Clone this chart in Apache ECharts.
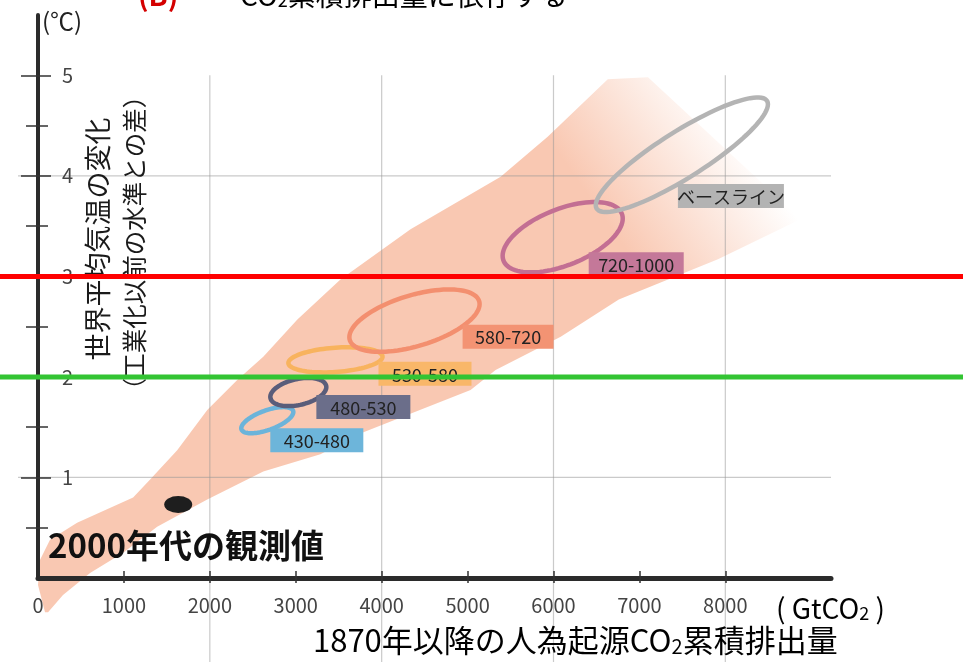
<!DOCTYPE html>
<html>
<head>
<meta charset="utf-8">
<script src="https://cdn.jsdelivr.net/npm/echarts@6/dist/echarts.min.js"></script>
<style>
  html, body { margin: 0; padding: 0; background: #ffffff; }
  #chart { width: 963px; height: 662px; }
</style>
</head>
<body>
<div id="chart"></div>
<script>
// Warming vs. cumulative anthropogenic CO2 emissions since 1870

// ---- data ----
const xLabelValues = [0, 1000, 2000, 3000, 4000, 5000, 6000, 7000, 8000];
const xTickValues = [1000, 2000, 3000, 4000, 5000, 6000, 7000, 8000];
const yLabelValues = [1, 2, 3, 4, 5];
const yMinorValues = [0.5, 1.5, 2.5, 3.5, 4.5];
const xGridValues = [2000, 4000, 6000, 8000];
const yGridValues = [1, 2, 3, 4];

// scenario ranges (ppm CO2-eq in 2100): spread of cumulative emissions and warming
const scenarioNames = ['430-480', '480-530', '530-580', '580-720', '720-1000', 'ベースライン'];
const scenarioCenterX = [2669, 3030, 3462, 4382, 6107, 7494];
const scenarioCenterY = [1.57, 1.85, 2.17, 2.56, 3.39, 4.21];
const scenarioHalfX = [303, 326, 548, 758, 699, 1002];
const scenarioHalfY = [0.13, 0.14, 0.125, 0.31, 0.35, 0.57];
const scenarioCorrelation = [0.62, 0.35, 0.25, 0.53, 0.53, 0.88];

// model spread (plume outline), cumulative emissions / warming
const plumeX = [82, 0, 23, 140, 455, 1107, 1305, 1620, 1970, 2319, 2622, 3019, 3520, 4336, 5385, 5932, 6632, 7100, 8881, 7914, 6760, 6084, 5326, 5035, 3788, 3287, 2622, 1970, 1387, 991, 606, 291, 117];
const plumeY = [-0.34, -0.07, 0.18, 0.38, 0.55, 0.80, 0.98, 1.27, 1.67, 1.97, 2.20, 2.57, 2.97, 3.47, 3.99, 4.39, 4.96, 4.98, 3.57, 3.17, 2.77, 2.40, 2.07, 1.87, 1.45, 1.23, 1.06, 0.78, 0.51, 0.25, 0.05, -0.17, -0.34];

// observations for the 2000s
const observedX = [1632];
const observedY = [0.73];

// reference warming levels
const thresholdLevels = [2, 3];

// ---- layout & style ----
const X_MAX = 9230;
const Y_MAX = 5.6;
const FONT = '"Noto Sans CJK JP", "Noto Sans", sans-serif';
const INK = '#2b2b2b';
const scenarioColors = ['#6cb4da', '#5a5d7a', '#f8b35e', '#f38f6f', '#c36f93', '#b4b4b4'];
const labelBoxColors = ['#6db5da', '#6b6e8a', '#f9b769', '#f39373', '#c47899', '#b3b3b3'];
const labelAnchorX = [2704, 3240, 3963, 4942, 6410, 7448];   // top-left of each label box
const labelAnchorY = [1.49, 1.82, 2.15, 2.52, 3.24, 3.92];
const labelBoxWidth = [93, 94, 93, 91, 95, 106];
const labelBoxHeight = 24;
const thresholdColors = ['#33c433', '#ff0000'];
const plumeColor = '#f9c8b2';

const chart = echarts.init(document.getElementById('chart'));

function ellipsePoints(i, api) {
  const r = scenarioCorrelation[i];
  const s = Math.sqrt(1 - r * r);
  const pts = [];
  for (let k = 0; k < 96; k++) {
    const t = (k / 96) * Math.PI * 2;
    pts.push(api.coord([
      scenarioCenterX[i] + scenarioHalfX[i] * Math.cos(t),
      scenarioCenterY[i] + scenarioHalfY[i] * (r * Math.cos(t) + s * Math.sin(t))
    ]));
  }
  return pts;
}

const tickLine = { color: '#333', width: 1.5 };
const yBase = {
  type: 'value', min: 0, max: Y_MAX, interval: 1, position: 'left', offset: 0,
  splitLine: { show: false }, axisLabel: { show: false },
  axisLine: { show: false }, axisTick: { show: false }, z: 6
};
const xBase = {
  type: 'value', min: 0, max: X_MAX, interval: 1000, position: 'bottom', offset: 0,
  splitLine: { show: false }, axisLabel: { show: false },
  axisLine: { show: false, onZero: false }, axisTick: { show: false }, z: 6
};

const option = {
  backgroundColor: '#ffffff',
  animation: false,
  grid: { left: 38, right: 132, top: 15, bottom: 84, containLabel: false },
  xAxis: [
    Object.assign({}, xBase, {
      axisLine: { show: true, onZero: false, lineStyle: { color: INK, width: 5 } },
      axisLabel: { show: true, customValues: xLabelValues, margin: 17, color: '#444', fontSize: 20, fontFamily: FONT,
        formatter: v => String(v) },
      axisTick: { show: true, inside: true, length: 7, customValues: xTickValues, lineStyle: tickLine }
    }),
    Object.assign({}, xBase, {
      axisTick: { show: true, inside: false, length: 5, customValues: xTickValues, lineStyle: tickLine }
    })
  ],
  yAxis: [
    Object.assign({}, yBase, {
      axisLine: { show: true, lineStyle: { color: INK, width: 4 } },
      axisLabel: { show: true, inside: true, margin: 24, customValues: yLabelValues, color: '#444', fontSize: 20, fontFamily: FONT },
      axisTick: { show: true, inside: true, length: 13, customValues: yLabelValues, lineStyle: tickLine }
    }),
    Object.assign({}, yBase, {
      axisTick: { show: true, inside: false, length: 17, customValues: yLabelValues, lineStyle: tickLine }
    }),
    Object.assign({}, yBase, {
      axisTick: { show: true, inside: true, length: 10, customValues: yMinorValues, lineStyle: tickLine }
    }),
    Object.assign({}, yBase, {
      axisTick: { show: true, inside: false, length: 12, customValues: yMinorValues, lineStyle: tickLine }
    })
  ],
  graphic: [
    { type: 'text', x: 138, y: 9, z: 5, style: { text: '(B)', font: 'bold 28px ' + FONT, fill: '#d40000', textVerticalAlign: 'bottom' } },
    { type: 'text', x: 240, y: 9, z: 5, style: {
        text: '{a|CO}{s|2}{a|累積排出量に依存する}', textVerticalAlign: 'bottom',
        rich: {
          a: { fontSize: 28, fontFamily: FONT, color: '#222', lineHeight: 30, verticalAlign: 'bottom' },
          s: { fontSize: 18, fontFamily: FONT, color: '#222', lineHeight: 18, verticalAlign: 'bottom' }
        } } },
    { type: 'text', x: 42, y: 21, z: 5, style: { text: '(℃)', font: '24px ' + FONT, fill: '#222', textVerticalAlign: 'middle' } },
    { type: 'text', x: 98, y: 239, rotation: Math.PI / 2, z: 5, style: {
        text: '世界平均気温の変化', font: '27px ' + FONT, fill: '#1a1a1a', textAlign: 'center', textVerticalAlign: 'middle' } },
    { type: 'text', x: 135, y: 243, rotation: Math.PI / 2, z: 5, style: {
        text: '（工業化以前の水準との差）', font: '24.5px ' + FONT, fill: '#1a1a1a', textAlign: 'center', textVerticalAlign: 'middle' } },
    { type: 'text', x: 48, y: 545, z: 5, style: { text: '2000年代の観測値', font: 'bold 33px ' + FONT, fill: '#111', textVerticalAlign: 'middle' } },
    { type: 'text', x: 776, y: 607, z: 5, style: {
        text: '{a|( GtCO}{s|2}{a| )}', textVerticalAlign: 'middle',
        rich: {
          a: { fontSize: 28, fontFamily: FONT, color: '#333', lineHeight: 30, verticalAlign: 'bottom' },
          s: { fontSize: 18, fontFamily: FONT, color: '#333', lineHeight: 14, verticalAlign: 'bottom' }
        } } },
    { type: 'text', x: 313, y: 640, z: 5, style: {
        text: '{a|1870年以降の人為起源CO}{s|2}{a|累積排出量}', textVerticalAlign: 'middle',
        rich: {
          a: { fontSize: 31, fontFamily: FONT, color: '#1a1a1a', lineHeight: 32, verticalAlign: 'bottom' },
          s: { fontSize: 20, fontFamily: FONT, color: '#1a1a1a', lineHeight: 16, verticalAlign: 'bottom' }
        } } }
  ],
  series: [
    // model spread plume
    {
      type: 'custom', z: 1, clip: false, silent: true,
      data: [0],
      renderItem: function (params, api) {
        const pts = plumeX.map((x, i) => api.coord([x, plumeY[i]]));
        return {
          type: 'polygon',
          shape: { points: pts },
          style: {
            fill: new echarts.graphic.LinearGradient(0, 1, 1, 0, [
              { offset: 0, color: plumeColor },
              { offset: 0.74, color: plumeColor },
              { offset: 0.91, color: 'rgba(249,200,178,0)' }
            ]),
            stroke: 'none'
          }
        };
      }
    },
    // vertical grid lines
    {
      type: 'custom', z: 2, clip: false, silent: true,
      data: xGridValues.map(v => [v]),
      renderItem: function (params, api) {
        const top = api.coord([api.value(0), 5.0]);
        return { type: 'line', shape: { x1: top[0], y1: top[1], x2: top[0], y2: api.getHeight() },
          style: { stroke: 'rgba(150,150,150,0.5)', lineWidth: 1.2 } };
      }
    },
    // horizontal grid lines
    {
      type: 'custom', z: 2, clip: false, silent: true,
      data: yGridValues.map(v => [0, v]),
      renderItem: function (params, api) {
        const a = api.coord([0, api.value(1)]);
        const b = api.coord([X_MAX, api.value(1)]);
        return { type: 'line', shape: { x1: a[0] - 20, y1: a[1], x2: b[0], y2: b[1] },
          style: { stroke: 'rgba(150,150,150,0.5)', lineWidth: 1.2 } };
      }
    },
    // scenario ellipses
    {
      type: 'custom', z: 3, clip: false, silent: true,
      data: scenarioNames.map((n, i) => [scenarioCenterX[i], scenarioCenterY[i]]),
      renderItem: function (params, api) {
        const i = params.dataIndex;
        return { type: 'polygon', shape: { points: ellipsePoints(i, api) },
          style: { fill: 'none', stroke: scenarioColors[i], lineWidth: 4.5 } };
      }
    },
    // scenario label boxes
    {
      type: 'custom', z: 4, clip: false, silent: true,
      data: scenarioNames.map((n, i) => [labelAnchorX[i], labelAnchorY[i]]),
      renderItem: function (params, api) {
        const i = params.dataIndex;
        const p = api.coord([api.value(0), api.value(1)]);
        const w = labelBoxWidth[i];
        return {
          type: 'group',
          children: [
            { type: 'rect', shape: { x: p[0], y: p[1], width: w, height: labelBoxHeight }, style: { fill: labelBoxColors[i] } },
            { type: 'text', x: p[0] + w / 2, y: p[1] + labelBoxHeight / 2 + 1,
              style: { text: scenarioNames[i], font: '18px ' + FONT, fill: '#222', textAlign: 'center', textVerticalAlign: 'middle' } }
          ]
        };
      }
    },
    // observed 2000s
    {
      type: 'scatter', z: 5, silent: true,
      symbol: 'circle', symbolSize: [28, 17],
      itemStyle: { color: '#1e1e1e', opacity: 1 },
      data: observedX.map((x, i) => [x, observedY[i]])
    },
    // warming levels
    {
      type: 'custom', z: 30, clip: false, silent: true,
      data: thresholdLevels.map(v => [0, v]),
      renderItem: function (params, api) {
        const a = api.coord([0, api.value(1)]);
        return { type: 'line', shape: { x1: 0, y1: a[1], x2: api.getWidth(), y2: a[1] },
          style: { stroke: thresholdColors[params.dataIndex], lineWidth: 5 } };
      }
    }
  ]
};

chart.setOption(option);
</script>
</body>
</html>
